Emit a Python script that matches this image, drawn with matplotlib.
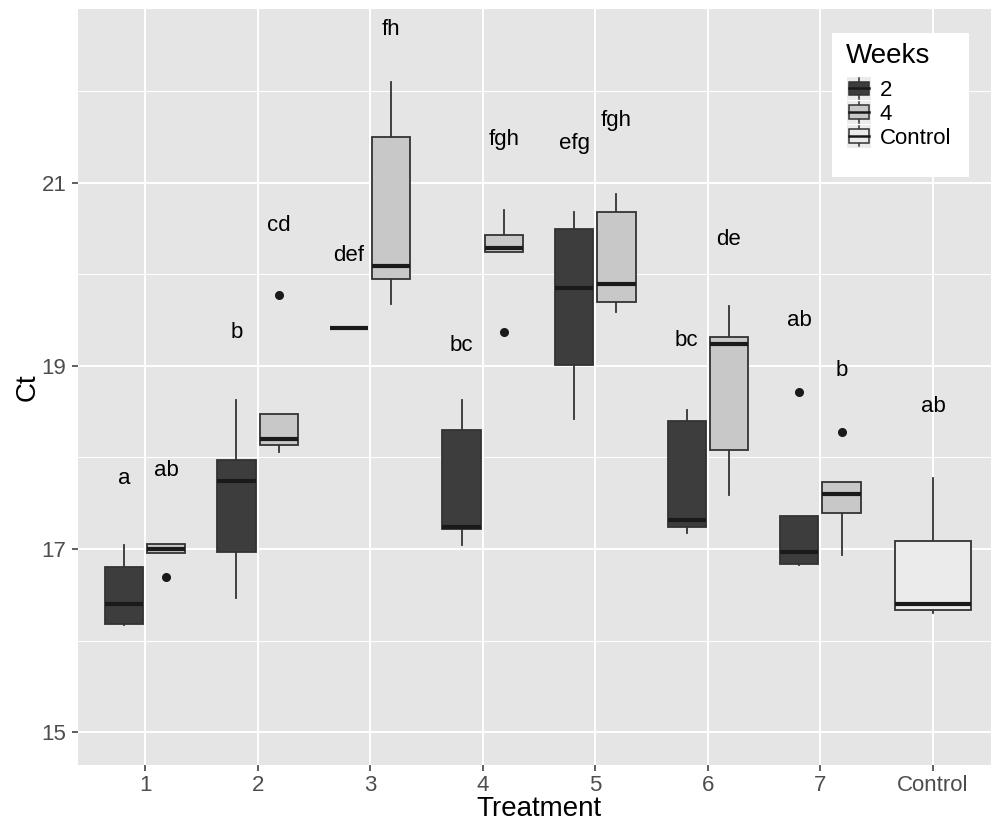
import matplotlib
matplotlib.use("Agg")
import matplotlib.pyplot as plt
from matplotlib.legend_handler import HandlerBase
from matplotlib.patches import Rectangle
from matplotlib.lines import Line2D

plt.rcParams['font.family'] = ['Liberation Sans', 'DejaVu Sans']

# ---------------- data ----------------
categories = ['1', '2', '3', '4', '5', '6', '7', 'Control']

# Week 2 box statistics (treatments 1..7)
w2_whislo = [16.17, 16.46, 19.41, 17.04, 18.42, 17.17, 16.83]
w2_q1 = [16.18, 16.97, 19.41, 17.22, 19.01, 17.24, 16.84]
w2_med = [16.40, 17.74, 19.41, 17.24, 19.85, 17.32, 16.97]
w2_q3 = [16.80, 17.97, 19.41, 18.30, 20.50, 18.40, 17.36]
w2_whishi = [17.04, 18.63, 19.41, 18.63, 20.68, 18.52, 17.36]
w2_outliers = [[], [], [], [], [], [], [18.72]]

# Week 4 box statistics (treatments 1..7)
w4_whislo = [16.96, 18.06, 19.68, 20.24, 19.59, 17.59, 16.93]
w4_q1 = [16.96, 18.14, 19.95, 20.24, 19.70, 18.08, 17.39]
w4_med = [17.00, 18.20, 20.09, 20.29, 19.90, 19.24, 17.60]
w4_q3 = [17.05, 18.48, 21.50, 20.43, 20.68, 19.32, 17.73]
w4_whishi = [17.06, 18.48, 22.10, 20.70, 20.88, 19.66, 17.73]
w4_outliers = [[16.69], [19.77], [], [19.37], [], [], [18.28]]

# Control box statistics
ctrl_whislo = [16.30]
ctrl_q1 = [16.33]
ctrl_med = [16.40]
ctrl_q3 = [17.09]
ctrl_whishi = [17.78]
ctrl_outliers = [[]]

# significance letters
w2_letters = ['a', 'b', 'def', 'bc', 'efg', 'bc', 'ab']
w2_letter_y = [17.77, 19.37, 20.21, 19.22, 21.43, 19.28, 19.50]
w4_letters = ['ab', 'cd', 'fh', 'fgh', 'fgh', 'de', 'b']
w4_letter_y = [17.86, 20.53, 22.68, 21.47, 21.68, 20.38, 18.95]
ctrl_letters = ['ab']
ctrl_letter_y = [18.56]

legend_title = 'Weeks'
legend_labels = ['2', '4', 'Control']
y_ticks = [15, 17, 19, 21]

# ---------------- style ----------------
col_w2 = '#3d3d3d'
col_w4 = '#c8c8c8'
col_ctrl = '#ebebeb'
edge = '#333333'
med_col = '#1a1a1a'
bg = '#e5e5e5'

W, H = 991, 824
fig = plt.figure(figsize=(W / 100, H / 100), dpi=100)
ax_left, ax_right, ax_top, ax_bot = 77.5, 1000.5, 9, 765
ax = fig.add_axes([ax_left / W, 1 - ax_bot / H, (ax_right - ax_left) / W, (ax_bot - ax_top) / H])
ax.set_facecolor(bg)


def stats(lo, q1, med, q3, hi, fl):
    return [dict(whislo=a, q1=b, med=c, q3=d, whishi=e, fliers=f)
            for a, b, c, d, e, f in zip(lo, q1, med, q3, hi, fl)]


off = 0.1875
bw = 0.34
xs = list(range(1, 8))


def draw(st, pos, width, fc):
    bp = ax.bxp(st, positions=pos, widths=width, patch_artist=True,
                showcaps=False, manage_ticks=False,
                boxprops=dict(facecolor=fc, edgecolor=edge, linewidth=1.3),
                whiskerprops=dict(color=edge, linewidth=1.3),
                medianprops=dict(color=med_col, linewidth=3.0, solid_capstyle='butt'),
                flierprops=dict(marker='o', markerfacecolor='#1a1a1a',
                                markeredgecolor='#1a1a1a', markersize=5.5))
    for b in bp['boxes']:
        b.set_zorder(3)
    for m in bp['medians']:
        m.set_zorder(4)
    return bp


draw(stats(w2_whislo, w2_q1, w2_med, w2_q3, w2_whishi, w2_outliers),
     [x - off for x in xs], bw, col_w2)
draw(stats(w4_whislo, w4_q1, w4_med, w4_q3, w4_whishi, w4_outliers),
     [x + off for x in xs], bw, col_w4)
draw(stats(ctrl_whislo, ctrl_q1, ctrl_med, ctrl_q3, ctrl_whishi, ctrl_outliers),
     [8], 0.68, col_ctrl)

fs_txt = 16
for x, t, y in zip(xs, w2_letters, w2_letter_y):
    ax.text(x - off, y, t, ha='center', va='center', fontsize=fs_txt, color='black')
for x, t, y in zip(xs, w4_letters, w4_letter_y):
    ax.text(x + off, y, t, ha='center', va='center', fontsize=fs_txt, color='black')
for t, y in zip(ctrl_letters, ctrl_letter_y):
    ax.text(8, y, t, ha='center', va='center', fontsize=fs_txt, color='black')

# axes
ax.set_xlim(0.4, 8.6)
ax.set_ylim(14.64, 22.90)
ax.set_xticks(range(1, 9))
ax.set_xticklabels(categories)
ax.set_yticks(y_ticks)
ax.set_yticks([16, 18, 20, 22], minor=True)
ax.grid(True, which='major', color='white', linewidth=1.4)
ax.grid(True, which='minor', axis='y', color='white', linewidth=0.7)
ax.set_axisbelow(True)
for s in ax.spines.values():
    s.set_visible(False)
ax.tick_params(axis='both', which='major', length=4, width=1.1, color='#333333',
               labelsize=16, labelcolor='#4d4d4d')
ax.tick_params(axis='x', pad=3)
ax.tick_params(axis='y', pad=4)
ax.tick_params(axis='y', which='minor', length=0)

ax.set_xlabel('Treatment', fontsize=20, color='black', va='center')
ax.xaxis.set_label_coords(0.5, ((H - 809) - (H - ax_bot)) / (ax_bot - ax_top))
ax.set_ylabel('Ct', fontsize=20, color='black', va='center')
ax.yaxis.set_label_coords((28 - ax_left) / (ax_right - ax_left), 0.5)


# legend
class BoxHandler(HandlerBase):
    def __init__(self, fc):
        super().__init__()
        self.fc = fc

    def create_artists(self, legend, orig, xd, yd, width, height, fontsize, trans):
        bgp = Rectangle((-xd, -yd), width, height, facecolor='#ebebeb',
                        edgecolor='none', transform=trans)
        bx0 = -xd + width * 0.08
        bw_ = width * 0.84
        by0 = -yd + height * 0.2
        bh = height * 0.6
        cx = -xd + width / 2
        wl1 = Line2D([cx, cx], [-yd + height * 0.05, by0], color=edge, lw=1.1, transform=trans)
        wl2 = Line2D([cx, cx], [by0 + bh, -yd + height * 0.95], color=edge, lw=1.1, transform=trans)
        box = Rectangle((bx0, by0), bw_, bh, facecolor=self.fc, edgecolor=edge, lw=1.1, transform=trans)
        med = Line2D([bx0, bx0 + bw_], [by0 + bh / 2] * 2, color=med_col, lw=1.8, transform=trans)
        return [bgp, wl1, wl2, box, med]


# white legend background
ax.add_patch(Rectangle((832 / W, 1 - 177 / H), (969 - 832) / W, (177 - 33) / H,
                       transform=fig.transFigure, facecolor='white', edgecolor='none',
                       zorder=6, clip_on=False))
fig.text(846 / W, 1 - 56 / H, legend_title, ha='left', va='center', fontsize=20,
         color='black', zorder=8)

handles = [Rectangle((0, 0), 1, 1) for _ in legend_labels]
hmap = {h: BoxHandler(c) for h, c in zip(handles, [col_w2, col_w4, col_ctrl])}
leg = ax.legend(handles, legend_labels, handler_map=hmap,
                loc='upper left', bbox_to_anchor=(847 / W, 1 - 77 / H),
                bbox_transform=fig.transFigure, fontsize=16,
                frameon=False, borderpad=0, labelspacing=0, handlelength=1.08,
                handleheight=1.2, handletextpad=0.4, borderaxespad=0)
leg.set_zorder(7)

fig.savefig('out.png', dpi=100, facecolor='white')
